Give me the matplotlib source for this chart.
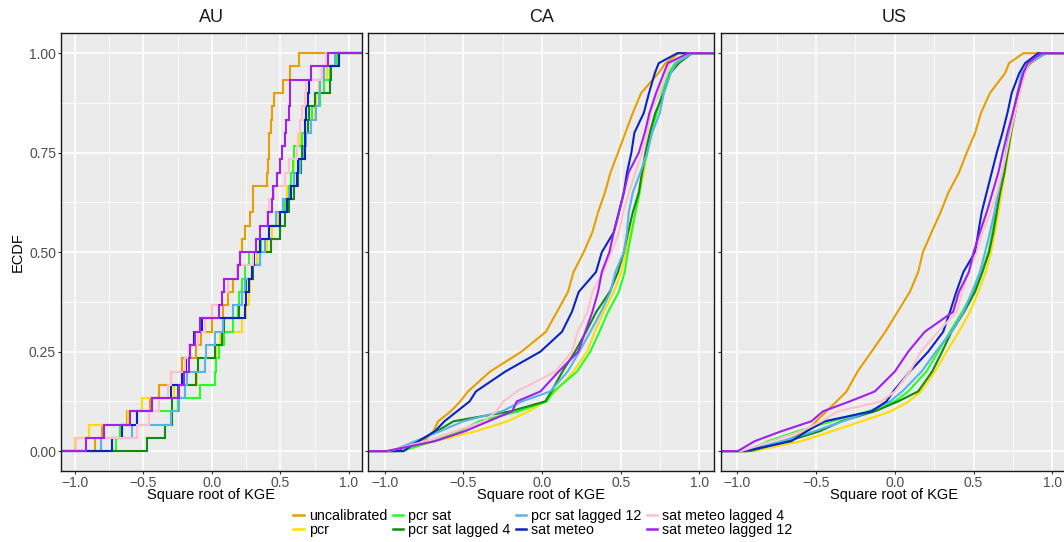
import numpy as np
import matplotlib
matplotlib.use("Agg")
import matplotlib.pyplot as plt
from matplotlib.lines import Line2D

plt.rcParams['font.family'] = ['Liberation Sans', 'DejaVu Sans']

# ---------------------------------------------------------------- data
series = ["uncalibrated", "pcr", "pcr sat", "pcr sat lagged 4",
          "pcr sat lagged 12", "sat meteo", "sat meteo lagged 4",
          "sat meteo lagged 12"]
colors = ["#E69F00", "#FFDD00", "#22FF22", "#118A11",
          "#56B4E9", "#0A24C4", "#FFC0CB", "#A020F0"]

# AU: square root of KGE for each catchment (30 catchments)
au_uncalibrated = [-0.85, -0.80, -0.62, -0.45, -0.39, -0.30, -0.22, -0.12, -0.08, 0.00,
                   0.08, 0.12, 0.15, 0.18, 0.205, 0.217, 0.24, 0.278, 0.30, 0.30,
                   0.40, 0.41, 0.415, 0.42, 0.43, 0.44, 0.45, 0.52, 0.568, 0.634]
au_pcr = [-1.00, -0.90, -0.61, -0.51, -0.28, -0.11, -0.05, 0.03, 0.06, 0.217,
          0.25, 0.27, 0.28, 0.30, 0.33, 0.40, 0.44, 0.48, 0.52, 0.55,
          0.58, 0.60, 0.62, 0.64, 0.70, 0.75, 0.76, 0.78, 0.84, 0.92]
au_pcr_sat = [-0.70, -0.67, -0.60, -0.25, -0.09, 0.02, 0.03, 0.05, 0.09, 0.15,
              0.19, 0.20, 0.22, 0.24, 0.27, 0.36, 0.42, 0.50, 0.53, 0.56,
              0.58, 0.59, 0.60, 0.66, 0.70, 0.73, 0.79, 0.82, 0.86, 0.91]
au_pcr_sat_lag4 = [-0.473, -0.34, -0.29, -0.29, -0.25, -0.12, -0.10, 0.02, 0.07, 0.09,
                   0.20, 0.22, 0.25, 0.30, 0.35, 0.43, 0.50, 0.53, 0.56, 0.60,
                   0.63, 0.65, 0.66, 0.68, 0.70, 0.71, 0.75, 0.86, 0.87, 0.93]
au_pcr_sat_lag12 = [-0.81, -0.58, -0.30, -0.24, -0.20, -0.18, -0.05, -0.04, 0.02, 0.08,
                    0.15, 0.22, 0.24, 0.29, 0.35, 0.39, 0.42, 0.47, 0.52, 0.57,
                    0.60, 0.64, 0.67, 0.69, 0.72, 0.76, 0.78, 0.79, 0.82, 0.90]
au_sat_meteo = [-0.73, -0.66, -0.55, -0.44, -0.30, -0.22, -0.19, -0.16, -0.13, -0.07,
                0.24, 0.25, 0.27, 0.29, 0.31, 0.35, 0.42, 0.50, 0.55, 0.58,
                0.62, 0.63, 0.68, 0.68, 0.68, 0.69, 0.70, 0.71, 0.80, 0.93]
au_sat_meteo_lag4 = [-0.995, -0.55, -0.46, -0.39, -0.32, -0.30, -0.20, -0.17, -0.10, -0.05,
                     0.00, 0.07, 0.12, 0.18, 0.30, 0.32, 0.35, 0.40, 0.42, 0.45,
                     0.53, 0.56, 0.62, 0.63, 0.64, 0.66, 0.68, 0.69, 0.80, 0.83]
au_sat_meteo_lag12 = [-0.922, -0.789, -0.595, -0.438, -0.243, -0.202, -0.17, -0.158, -0.122, -0.086,
                      0.055, 0.07, 0.085, 0.19, 0.205, 0.32, 0.35, 0.41, 0.435, 0.447,
                      0.476, 0.496, 0.508, 0.532, 0.544, 0.564, 0.568, 0.568, 0.72, 0.847]

# CA and US: many catchments, summarised as quantiles of the ECDF
ecdf_levels = [0.0, 0.025, 0.05, 0.075, 0.1, 0.125, 0.15, 0.2, 0.25, 0.3, 0.35, 0.4,
               0.45, 0.5, 0.55, 0.6, 0.65, 0.7, 0.75, 0.8, 0.85, 0.9, 0.95, 0.975, 1.0]

ca_uncalibrated = [-0.96, -0.75, -0.69, -0.66, -0.58, -0.52, -0.47, -0.33, -0.13, 0.025, 0.095, 0.165,
                   0.20, 0.265, 0.32, 0.356, 0.40, 0.435, 0.483, 0.53, 0.577, 0.63, 0.74, 0.785, 0.87]
ca_pcr = [-0.91, -0.68, -0.42, -0.22, -0.085, 0.02, 0.085, 0.20, 0.286, 0.335, 0.392, 0.456,
          0.505, 0.534, 0.562, 0.594, 0.62, 0.647, 0.668, 0.695, 0.725, 0.768, 0.81, 0.848, 0.95]
ca_pcr_sat = [-0.89, -0.69, -0.52, -0.40, -0.148, 0.032, 0.074, 0.223, 0.307, 0.365, 0.42, 0.488,
              0.526, 0.545, 0.57, 0.594, 0.62, 0.636, 0.67, 0.69, 0.73, 0.763, 0.806, 0.844, 0.944]
ca_pcr_sat_lag4 = [-0.93, -0.785, -0.668, -0.562, -0.20, 0.021, 0.06, 0.13, 0.21, 0.28, 0.345, 0.43,
                   0.483, 0.52, 0.547, 0.577, 0.615, 0.636, 0.657, 0.685, 0.72, 0.774, 0.816, 0.87, 0.954]
ca_pcr_sat_lag12 = [-0.955, -0.806, -0.647, -0.50, -0.254, -0.127, 0.053, 0.163, 0.237, 0.307, 0.375, 0.435,
                    0.466, 0.52, 0.54, 0.551, 0.577, 0.625, 0.668, 0.70, 0.749, 0.774, 0.818, 0.852, 0.954]
ca_sat_meteo = [-0.88, -0.785, -0.68, -0.62, -0.54, -0.46, -0.42, -0.233, -0.01, 0.127, 0.19, 0.233,
                0.343, 0.38, 0.456, 0.488, 0.52, 0.54, 0.568, 0.587, 0.647, 0.68, 0.717, 0.742, 0.86]
ca_sat_meteo_lag4 = [-0.975, -0.74, -0.55, -0.37, -0.29, -0.245, -0.16, 0.085, 0.19, 0.227, 0.29, 0.32,
                     0.39, 0.44, 0.49, 0.515, 0.553, 0.594, 0.636, 0.67, 0.69, 0.746, 0.79, 0.816, 0.93]
ca_sat_meteo_lag12 = [-0.99, -0.68, -0.49, -0.34, -0.19, -0.16, -0.01, 0.106, 0.23, 0.275, 0.32, 0.356,
                      0.38, 0.428, 0.456, 0.49, 0.52, 0.55, 0.615, 0.653, 0.683, 0.725, 0.774, 0.80, 0.93]

us_uncalibrated = [-0.933, -0.70, -0.56, -0.50, -0.435, -0.37, -0.307, -0.237, -0.148, -0.06, 0.017, 0.095,
                   0.148, 0.178, 0.233, 0.29, 0.34, 0.407, 0.456, 0.51, 0.547, 0.604, 0.70, 0.725, 0.816]
us_pcr = [-0.90, -0.594, -0.40, -0.21, -0.025, 0.089, 0.165, 0.254, 0.329, 0.407, 0.477, 0.53,
          0.577, 0.61, 0.636, 0.657, 0.678, 0.70, 0.72, 0.742, 0.763, 0.79, 0.823, 0.859, 0.954]
us_pcr_sat = [-0.93, -0.806, -0.615, -0.40, -0.17, 0.0, 0.085, 0.20, 0.275, 0.35, 0.428, 0.498,
              0.551, 0.594, 0.62, 0.64, 0.66, 0.685, 0.708, 0.73, 0.755, 0.785, 0.816, 0.852, 0.944]
us_pcr_sat_lag4 = [-0.92, -0.68, -0.477, -0.34, -0.127, 0.021, 0.148, 0.237, 0.30, 0.36, 0.44, 0.509,
                   0.556, 0.598, 0.625, 0.647, 0.668, 0.695, 0.716, 0.738, 0.763, 0.788, 0.816, 0.859, 0.954]
us_pcr_sat_lag12 = [-0.944, -0.72, -0.51, -0.33, -0.16, -0.03, 0.047, 0.17, 0.26, 0.36, 0.435, 0.49,
                    0.54, 0.573, 0.604, 0.632, 0.657, 0.683, 0.706, 0.727, 0.753, 0.778, 0.806, 0.848, 0.965]
us_sat_meteo = [-0.955, -0.657, -0.56, -0.445, -0.148, -0.053, -0.01, 0.095, 0.212, 0.307, 0.35, 0.39,
                0.435, 0.509, 0.53, 0.551, 0.583, 0.615, 0.647, 0.683, 0.715, 0.742, 0.79, 0.827, 0.91]
us_sat_meteo_lag4 = [-0.975, -0.785, -0.594, -0.466, -0.36, -0.085, 0.0, 0.095, 0.165, 0.275, 0.392, 0.428,
                     0.47, 0.52, 0.556, 0.606, 0.649, 0.68, 0.708, 0.734, 0.763, 0.795, 0.827, 0.852, 0.933]
us_sat_meteo_lag12 = [-0.997, -0.89, -0.72, -0.53, -0.456, -0.286, -0.127, 0.0, 0.085, 0.19, 0.37, 0.407,
                      0.47, 0.50, 0.54, 0.583, 0.62, 0.657, 0.685, 0.715, 0.749, 0.78, 0.816, 0.844, 0.933]

regions = ["AU", "CA", "US"]
au_samples = [au_uncalibrated, au_pcr, au_pcr_sat, au_pcr_sat_lag4, au_pcr_sat_lag12,
              au_sat_meteo, au_sat_meteo_lag4, au_sat_meteo_lag12]
ca_quantiles = [ca_uncalibrated, ca_pcr, ca_pcr_sat, ca_pcr_sat_lag4, ca_pcr_sat_lag12,
                ca_sat_meteo, ca_sat_meteo_lag4, ca_sat_meteo_lag12]
us_quantiles = [us_uncalibrated, us_pcr, us_pcr_sat, us_pcr_sat_lag4, us_pcr_sat_lag12,
                us_sat_meteo, us_sat_meteo_lag4, us_sat_meteo_lag12]

x_ticks = [-1.0, -0.5, 0.0, 0.5, 1.0]
x_ticklabels = ["\u22121.0", "\u22120.5", "0.0", "0.5", "1.0"]
y_ticks = [0.0, 0.25, 0.5, 0.75, 1.0]
y_ticklabels = ["0.00", "0.25", "0.50", "0.75", "1.00"]

# ---------------------------------------------------------------- figure
W, H = 1064, 542
fig = plt.figure(figsize=(W / 100, H / 100), dpi=100)
fig.patch.set_facecolor("white")

TOP, BOTTOM = 33.3, 471.0
panel_px = [(60.7, 361.7), (368.3, 714.0), (721.0, 1067.0)]
XLIM = (-1.104, 1.093)
YLIM = (-0.05, 1.05)
FAR = 5.0  # ecdf tails run off both sides of the panel


def make_panel(x0, x1):
    ax = fig.add_axes([x0 / W, (H - BOTTOM) / H, (x1 - x0) / W, (BOTTOM - TOP) / H])
    ax.set_facecolor("#EBEBEB")
    ax.set_xlim(*XLIM)
    ax.set_ylim(*YLIM)
    ax.set_xticks(x_ticks)
    ax.set_xticks([-0.75, -0.25, 0.25, 0.75], minor=True)
    ax.set_yticks(y_ticks)
    ax.set_yticks([0.125, 0.375, 0.625, 0.875], minor=True)
    ax.grid(which="major", color="white", lw=1.1)
    ax.grid(which="minor", color="white", lw=0.6)
    ax.set_axisbelow(True)
    ax.tick_params(which="major", length=2.5, width=0.8, color="#333333",
                   labelsize=10, labelcolor="#4D4D4D", pad=0.8)
    ax.tick_params(which="minor", length=0)
    for sp in ax.spines.values():
        sp.set_color("#1A1A1A")
        sp.set_linewidth(1.0)
    ax.set_xticklabels(x_ticklabels)
    return ax


axes = [make_panel(a, b) for a, b in panel_px]

# AU: step ECDF of the catchment values
ax = axes[0]
for vals, col in zip(au_samples, colors):
    v = np.sort(np.asarray(vals, dtype=float))
    n = len(v)
    xs = np.concatenate([[-FAR], v, [FAR]])
    ys = np.concatenate([[0.0], np.arange(1, n + 1) / n, [1.0]])
    ax.plot(xs, ys, drawstyle="steps-post", color=col, lw=1.5, solid_joinstyle="miter")
ax.set_yticklabels(y_ticklabels)

# CA and US: ECDF traced through its quantiles
p = np.asarray(ecdf_levels)
for ax, table in zip(axes[1:], [ca_quantiles, us_quantiles]):
    for vals, col in zip(table, colors):
        q = np.asarray(vals, dtype=float)
        ax.plot(np.concatenate([[-FAR], q, [FAR]]),
                np.concatenate([[0.0], p, [1.0]]),
                color=col, lw=1.5, solid_joinstyle="miter")
    ax.set_yticklabels([])

# facet titles and axis titles
for name, (a, b) in zip(regions, panel_px):
    cx = (a + b) / 2
    fig.text(cx / W, 1 - 18 / H, name, ha="center", va="center",
             fontsize=13, color="#1A1A1A")
    fig.text(cx / W, 1 - 495.5 / H, "Square root of KGE", ha="center", va="center",
             fontsize=10.5, color="black")
fig.text(18 / W, 1 - 252 / H, "ECDF", rotation=90, ha="center", va="center",
         fontsize=10.5, color="black")

# legend
handles = [Line2D([0], [0], color=c, lw=1.8) for c in colors]
leg = fig.legend(handles, series, ncol=4, loc="center",
                 bbox_to_anchor=(543 / W, (H - 523.4) / H),
                 frameon=False, fontsize=10.3, handlelength=0.75,
                 handletextpad=0.35, columnspacing=0.35, labelspacing=0.0,
                 borderpad=0.0)

fig.savefig("out.png", dpi=100, facecolor="white")
